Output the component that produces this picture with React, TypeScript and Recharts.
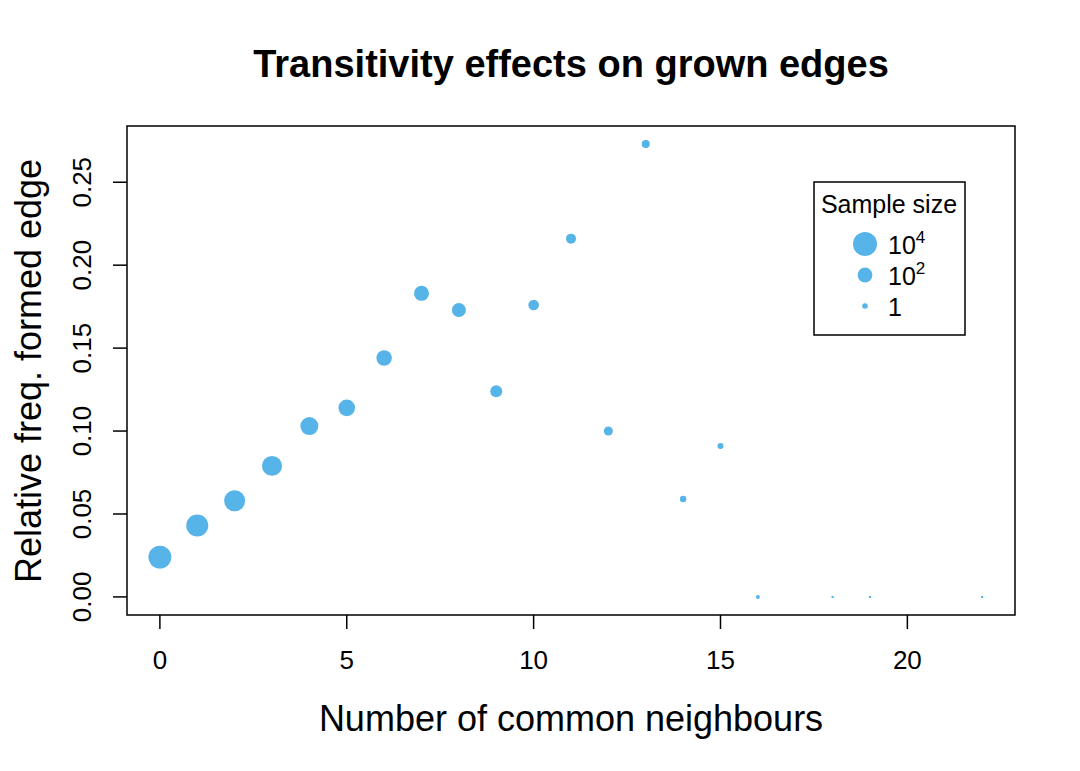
import { ScatterChart, Scatter, XAxis, YAxis, ReferenceArea } from 'recharts';

const neighbours = [0, 1, 2, 3, 4, 5, 6, 7, 8, 9, 10, 11, 12, 13, 14, 15, 16, 18, 19, 22];
const relFreq = [
  0.024, 0.043, 0.058, 0.079, 0.103, 0.114, 0.144, 0.183, 0.173, 0.124,
  0.176, 0.216, 0.1, 0.273, 0.059, 0.091, 0, 0, 0, 0,
];
const sampleSize = [
  9000, 5900, 3800, 2400, 1000, 540, 340, 265, 170, 70,
  38, 29, 19, 12, 6, 5, 2, 1, 1, 1,
];
const xTicks = [0, 5, 10, 15, 20];
const yTicks = [0, 0.05, 0.1, 0.15, 0.2, 0.25];
const legendSizes = [
  { base: '10', exp: '4', n: 10000 },
  { base: '10', exp: '2', n: 100 },
  { base: '1', exp: '', n: 1 },
];

const data = neighbours.map((x, i) => ({ x, y: relFreq[i], n: sampleSize[i] }));

const BLUE = '#56B4E9';
const FONT = '"Liberation Sans", Arial, Helvetica, sans-serif';
const X_DOMAIN: [number, number] = [-0.88, 22.88];
const Y_DOMAIN: [number, number] = [-0.0109, 0.2839];

const radius = (n: number) => 1.2 + 2.6 * Math.log10(n);
const legendRadius = (n: number) => 2.8 + 2.3 * Math.log10(n);

const XTick = ({ x, y, payload }: any) => (
  <text x={x} y={y + 38} textAnchor="middle" fontFamily={FONT} fontSize={26} fill="#000">
    {payload.value}
  </text>
);

const YTick = ({ x, y, payload }: any) => {
  const tx = x - 20;
  return (
    <text
      x={tx}
      y={y}
      transform={`rotate(-90, ${tx}, ${y})`}
      textAnchor="middle"
      fontFamily={FONT}
      fontSize={26}
      fill="#000"
    >
      {payload.value.toFixed(2)}
    </text>
  );
};

const Dot = (props: any) => {
  const { cx, cy, payload } = props;
  return <circle cx={cx} cy={cy} r={radius(payload.n)} fill={BLUE} />;
};

export default function App() {
  return (
    <div style={{ position: 'absolute', left: 0, top: 0, width: 1080, height: 771, background: '#fff' }}>
      <ScatterChart width={1080} height={771} margin={{ top: 126, right: 65, bottom: 0, left: 0 }}>
        <XAxis
          type="number"
          dataKey="x"
          domain={X_DOMAIN}
          ticks={xTicks}
          height={156}
          axisLine={false}
          tickSize={14}
          tickLine={{ stroke: '#000', strokeWidth: 1.5 }}
          tick={<XTick />}
          allowDataOverflow
        />
        <YAxis
          type="number"
          dataKey="y"
          domain={Y_DOMAIN}
          ticks={yTicks}
          width={127}
          axisLine={false}
          tickSize={14}
          tickLine={{ stroke: '#000', strokeWidth: 1.5 }}
          tick={<YTick />}
          allowDataOverflow
        />
        <ReferenceArea
          x1={X_DOMAIN[0]}
          x2={X_DOMAIN[1]}
          y1={Y_DOMAIN[0]}
          y2={Y_DOMAIN[1]}
          fill="none"
          stroke="#000"
          strokeWidth={1.5}
          ifOverflow="visible"
        />
        <Scatter data={data} shape={<Dot />} isAnimationActive={false} />
      </ScatterChart>
      <svg
        width={1080}
        height={771}
        style={{ position: 'absolute', left: 0, top: 0, pointerEvents: 'none' }}
        fontFamily={FONT}
      >
        <text x={571} y={77} textAnchor="middle" fontSize={38} fontWeight="bold" fill="#000">
          Transitivity effects on grown edges
        </text>
        <text x={571} y={731} textAnchor="middle" fontSize={36} fill="#000">
          Number of common neighbours
        </text>
        <text
          x={41}
          y={371}
          transform="rotate(-90, 41, 371)"
          textAnchor="middle"
          fontSize={36}
          fill="#000"
        >
          Relative freq. formed edge
        </text>
        <rect x={814} y={182} width={151} height={153} fill="#fff" stroke="#000" strokeWidth={1.5} />
        <text x={889} y={213} textAnchor="middle" fontSize={25} fill="#000">
          Sample size
        </text>
        {legendSizes.map((s, i) => {
          const cy = 244 + i * 31;
          return (
            <g key={i}>
              <circle cx={865} cy={cy} r={legendRadius(s.n)} fill={BLUE} />
              <text x={888} y={cy + 10} fontSize={25} fill="#000">
                {s.base}
                {s.exp && (
                  <tspan dy={-11} fontSize={17}>
                    {s.exp}
                  </tspan>
                )}
              </text>
            </g>
          );
        })}
      </svg>
    </div>
  );
}
